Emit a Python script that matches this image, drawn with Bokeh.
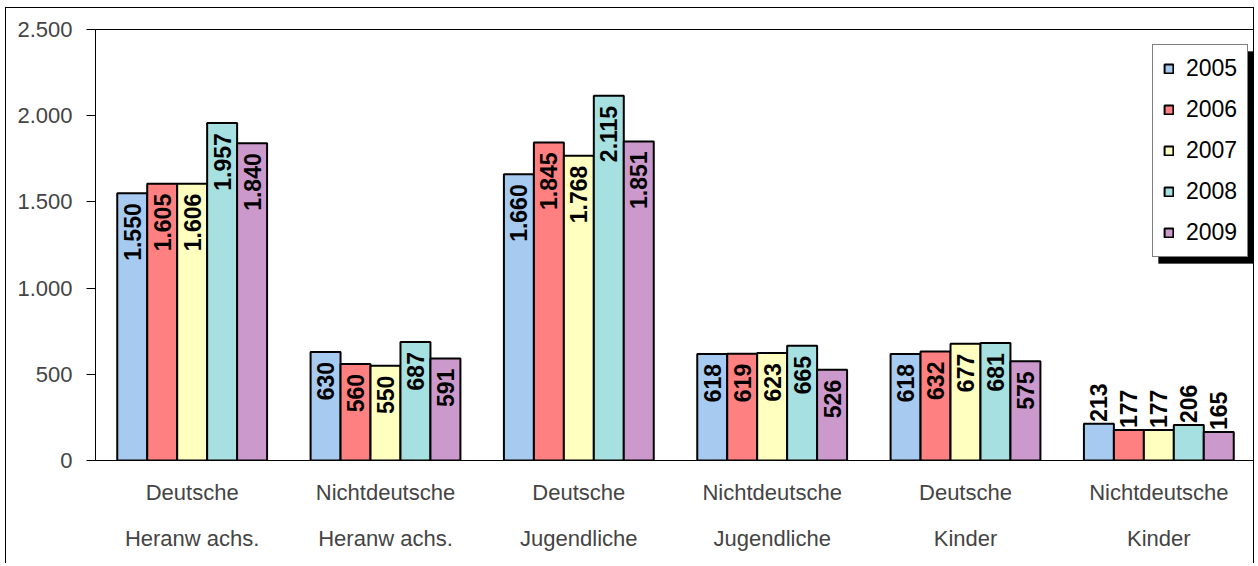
import math
from bokeh.plotting import figure
from bokeh.models import (ColumnDataSource, FactorRange, FixedTicker, Legend, LegendItem,
                          Range1d, BoxAnnotation)
from bokeh.transform import dodge
from bokeh.core.properties import value
from bokeh.embed import file_html
from bokeh.resources import INLINE

# ---- data ----
cat_line1 = ["Deutsche", "Nichtdeutsche", "Deutsche", "Nichtdeutsche", "Deutsche", "Nichtdeutsche"]
cat_line2 = ["Heranw achs.", "Heranw achs.", "Jugendliche", "Jugendliche", "Kinder", "Kinder"]
years = ["2005", "2006", "2007", "2008", "2009"]
v2005 = [1550, 630, 1660, 618, 618, 213]
v2006 = [1605, 560, 1845, 619, 632, 177]
v2007 = [1606, 550, 1768, 623, 677, 177]
v2008 = [1957, 687, 2115, 665, 681, 206]
v2009 = [1840, 591, 1851, 526, 575, 165]
y_ticks = [0, 500, 1000, 1500, 2000, 2500]
y_tick_labels = ["0", "500", "1.000", "1.500", "2.000", "2.500"]

series = [v2005, v2006, v2007, v2008, v2009]
colors = ["#A6CAF0", "#FF8080", "#FFFFC0", "#A6E0E0", "#CC99CC"]

cats = [f"{a}\n{b}" for a, b in zip(cat_line1, cat_line2)]

FONT = "Liberation Sans"

p = figure(
    width=1249, height=556,
    x_range=FactorRange(factors=cats, range_padding=0),
    y_range=Range1d(0, 2500),
    output_backend="svg", toolbar_location=None,
    min_border_left=89, min_border_top=21, min_border_bottom=104, min_border_right=0,
)
p.styles = {"margin-left": "5px", "margin-top": "7px",
            "border-left": "1px solid black", "border-top": "1px solid black",
            "border-right": "1px solid black"}
p.outline_line_color = "black"
p.outline_line_width = 1
p.xgrid.visible = False
p.ygrid.visible = False
p.background_fill_color = "white"

bw = 0.155
renderers = []
for i, (yr, vals, col) in enumerate(zip(years, series, colors)):
    off = (i - 2) * bw
    labels = [f"{v:,}".replace(",", ".") for v in vals]
    src = ColumnDataSource(dict(cat=cats, val=vals, lab=labels))
    r = p.vbar(x=dodge("cat", off, range=p.x_range), top="val", width=bw, source=src,
               fill_color=col, line_color="black", line_width=2)
    renderers.append(r)
    inside = [j for j, v in enumerate(vals) if v > 300]
    outside = [j for j, v in enumerate(vals) if v <= 300]
    src_in = ColumnDataSource(dict(cat=[cats[j] for j in inside], val=[vals[j] for j in inside],
                                   lab=[labels[j] for j in inside]))
    src_out = ColumnDataSource(dict(cat=[cats[j] for j in outside], val=[vals[j] for j in outside],
                                    lab=[labels[j] for j in outside]))
    p.text(x=dodge("cat", off, range=p.x_range), y="val", text="lab", source=src_in,
           angle=math.pi / 2, text_align="right", text_baseline="middle", y_offset=10,
           text_font=value(FONT), text_font_style="bold", text_font_size="23px", text_color="black")
    p.text(x=dodge("cat", off, range=p.x_range), y="val", text="lab", source=src_out,
           angle=math.pi / 2, text_align="left", text_baseline="middle", y_offset=-2,
           text_font=value(FONT), text_font_style="bold", text_font_size="23px", text_color="black")

# axes
p.yaxis.ticker = FixedTicker(ticks=y_ticks)
p.yaxis.major_label_overrides = {t: l for t, l in zip(y_ticks, y_tick_labels)}
p.yaxis.major_label_text_font = FONT
p.yaxis.major_label_text_font_size = "22px"
p.yaxis.major_tick_out = 9
p.yaxis.major_tick_in = 0
p.yaxis.minor_tick_line_color = None
p.yaxis.major_label_standoff = 14
p.yaxis.axis_line_color = "black"

p.xaxis.major_tick_line_color = None
p.xaxis.major_label_text_font = FONT
p.xaxis.major_label_text_font_size = "22px"
p.xaxis.major_label_text_line_height = 1.87
p.xaxis.major_label_standoff = 13
p.xaxis.axis_line_color = "black"

# legend shadow (canvas pixels)
shadow = BoxAnnotation(left=1151, right=1246, top=42, bottom=254,
                       left_units="canvas", right_units="canvas",
                       top_units="canvas", bottom_units="canvas",
                       fill_color="black", fill_alpha=1, line_color="black")
p.add_layout(shadow)

items = [LegendItem(label=yr, renderers=[r]) for yr, r in zip(years, renderers)]
legend = Legend(items=items, location=(1057, 203),
                orientation="vertical", padding=10, spacing=14, margin=0,
                glyph_width=11, glyph_height=11, label_standoff=12,
                label_text_font=FONT, label_text_font_size="23px", label_text_color="black",
                border_line_color="black", border_line_width=1,
                background_fill_color="white", background_fill_alpha=1)
p.add_layout(legend, "center")

open("out.html", "w").write(file_html(p, INLINE))
